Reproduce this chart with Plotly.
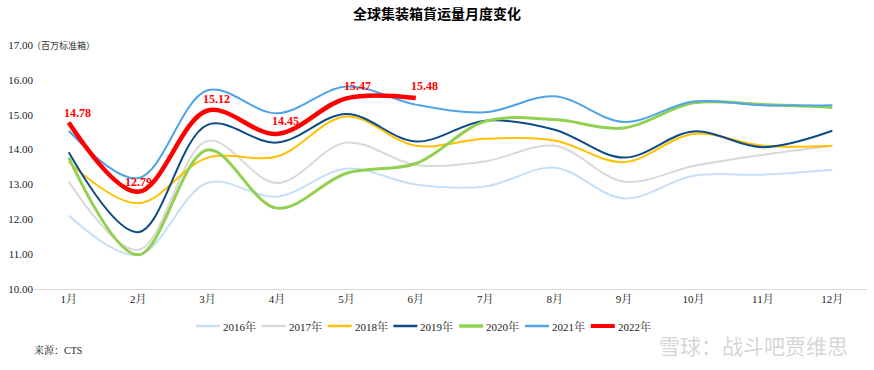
import plotly.graph_objects as go

months = ["1月", "2月", "3月", "4月", "5月", "6月", "7月", "8月", "9月", "10月", "11月", "12月"]
y2016 = [12.11, 10.98, 13.05, 12.65, 13.45, 13.00, 12.94, 13.48, 12.60, 13.25, 13.28, 13.42]
y2017 = [13.08, 11.12, 14.25, 13.04, 14.20, 13.56, 13.66, 14.11, 13.08, 13.53, 13.85, 14.11]
y2018 = [13.64, 12.46, 13.77, 13.80, 14.95, 14.11, 14.31, 14.26, 13.64, 14.45, 14.11, 14.11]
y2019 = [13.92, 11.63, 14.71, 14.20, 15.02, 14.23, 14.83, 14.57, 13.77, 14.52, 14.07, 14.54]
y2020 = [13.77, 10.98, 13.99, 12.32, 13.32, 13.60, 14.81, 14.86, 14.62, 15.34, 15.29, 15.21]
y2021 = [14.54, 13.18, 15.70, 15.04, 15.81, 15.29, 15.07, 15.53, 14.79, 15.38, 15.27, 15.27]
y2022 = [14.78, 12.79, 15.12, 14.45, 15.47, 15.48]

series = [
    ("2016年", y2016, "#C5DFF8", 2),
    ("2017年", y2017, "#D9D9D9", 2),
    ("2018年", y2018, "#FFC000", 2),
    ("2019年", y2019, "#0E4C86", 2),
    ("2020年", y2020, "#92D050", 3),
    ("2021年", y2021, "#4FA3E6", 2),
    ("2022年", y2022, "#FF0000", 4.5),
]

serif = "Liberation Serif, Times New Roman, Noto Serif CJK SC, Noto Sans CJK SC, serif"

W, H = 874, 370
L, R, T, B = 34, 7, 45, 81
PW, PH = W - L - R, H - T - B

fig = go.Figure()
for name, vals, color, w in series:
    fig.add_trace(go.Scatter(
        x=months[:len(vals)], y=vals, name=name, mode="lines",
        line=dict(color=color, width=w, shape="spline", smoothing=1.0),
        hoverinfo="skip", showlegend=False,
    ))

# data labels for 2022
xshifts = [9, 0, 9, 9, 11, 9]
yshifts = [9, 10, 12, 13, 12, 12]
for i, v in enumerate(y2022):
    fig.add_annotation(
        x=months[i], y=v, text=f"{v:.2f}", showarrow=False,
        xshift=xshifts[i], yshift=yshifts[i],
        font=dict(family=serif, size=12, color="#FF0000", weight="bold"),
    )

# manual legend (short line samples like the reference)
def px_x(p):
    return (p - L) / PW

def px_y(p):
    return (H - B - p) / PH

leg_y = px_y(326)
for i, (name, vals, color, w) in enumerate(series):
    x0 = 196 + i * 65.8
    fig.add_shape(type="line", xref="paper", yref="paper",
                  x0=px_x(x0), x1=px_x(x0 + 24), y0=leg_y, y1=leg_y,
                  line=dict(color=color, width=min(w + 0.5, 4)))
    fig.add_annotation(xref="paper", yref="paper", x=px_x(x0 + 25), y=leg_y,
                       xanchor="left", yanchor="middle", text=name, showarrow=False,
                       font=dict(family=serif, size=11, color="#222222"))

fig.add_annotation(
    xref="paper", yref="y", x=0, y=17, xanchor="left", yanchor="middle",
    text="（百万标准箱）", showarrow=False, xshift=-4,
    font=dict(family="Noto Sans CJK SC", size=9, color="#333333"),
)
fig.add_annotation(
    xref="paper", yref="paper", x=0, y=px_y(350), xanchor="left", yanchor="middle",
    text="来源：CTS", showarrow=False, xshift=-2,
    font=dict(family=serif, size=10, color="#222222"),
)
fig.add_annotation(
    xref="paper", yref="paper", x=px_x(850), y=px_y(345), xanchor="right", yanchor="middle",
    text="雪球：战斗吧贾维思", showarrow=False,
    font=dict(family="Noto Sans CJK SC", size=21, color="rgba(200,200,200,0.75)"),
)

fig.update_layout(
    width=W, height=H,
    margin=dict(l=L, r=R, t=T, b=B),
    paper_bgcolor="white", plot_bgcolor="white",
    title=dict(text="<b>全球集装箱貨运量月度变化</b>", x=0.5, xanchor="center",
               y=1 - 14 / H, yanchor="middle",
               font=dict(family="Noto Sans CJK SC", size=14, color="#000000")),
    showlegend=False,
    xaxis=dict(range=[-0.5, 11.5], showgrid=False, showline=True, linecolor="#D9D9D9",
               linewidth=1, ticks="", tickfont=dict(family=serif, size=11, color="#222222"),
               fixedrange=True),
    yaxis=dict(range=[10, 17], dtick=1, tickformat=".2f", showgrid=False,
               zeroline=False, showline=False, ticks="",
               tickfont=dict(family=serif, size=11, color="#222222"),
               fixedrange=True),
)

fig.write_html("out.html", config={"displayModeBar": False},
               post_script="document.body.style.margin='0';")
